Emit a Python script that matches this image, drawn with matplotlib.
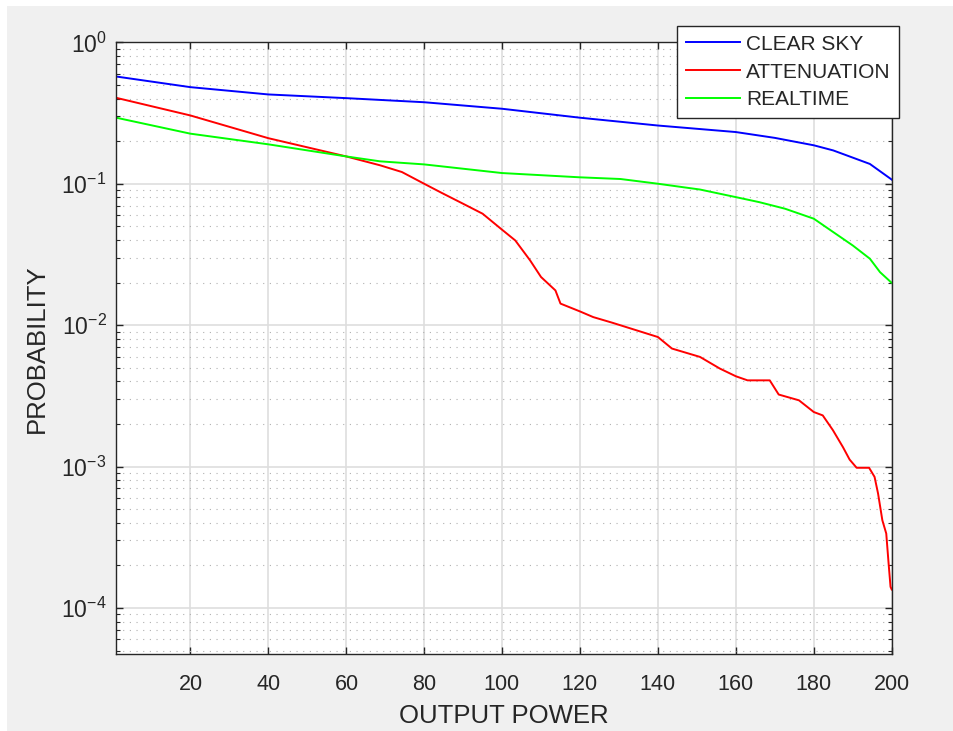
import matplotlib
matplotlib.use("Agg")
import matplotlib.pyplot as plt
from matplotlib.patches import Rectangle
from matplotlib.ticker import LogLocator, FixedLocator, NullLocator

plt.rcParams["font.family"] = ["Liberation Sans", "DejaVu Sans"]
plt.rcParams["axes.formatter.use_mathtext"] = True
plt.rcParams["axes.unicode_minus"] = False

# (output power -> exceedance probability)
clear_x = [1, 20, 40, 60, 80, 100, 120, 140, 160, 170, 180, 185, 190, 194.4, 200]
clear_y = [0.573, 0.482, 0.428, 0.403, 0.377, 0.339, 0.293, 0.258, 0.232, 0.211,
           0.187, 0.172, 0.153, 0.138, 0.107]

atten_x = [1, 20, 40, 60, 68.7, 74.3, 80, 84.6, 90, 95, 100, 103.4, 107.2, 110, 113.7,
           115, 120, 123.4, 128.3, 140, 143.6, 150.8, 155.9, 160, 163, 168.7, 171,
           176.2, 180, 182.3, 184.9, 187.5, 189.2, 191, 194.2, 195.6, 196.5, 197.6,
           198.6, 199.2, 199.7, 200]
atten_y = [0.405, 0.304, 0.210, 0.156, 0.135, 0.121, 0.100, 0.0859, 0.0722, 0.0614,
           0.0473, 0.0397, 0.0287, 0.0219, 0.0176, 0.0142, 0.0125, 0.0114, 0.0104,
           0.00824, 0.00683, 0.00596, 0.00493, 0.00435, 0.00407, 0.00407, 0.00323,
           0.00294, 0.00243, 0.00230, 0.00181, 0.00137, 0.00112, 0.00098, 0.00098,
           0.000845, 0.000644, 0.000417, 0.000336, 0.000207, 0.000141, 0.000135]

real_x = [1, 20, 40, 60, 68.7, 80, 100, 120, 130.4, 140, 150.8, 160, 166, 172.6, 180,
          185, 190, 194.4, 197, 200]
real_y = [0.293, 0.226, 0.190, 0.156, 0.144, 0.137, 0.119, 0.111, 0.108, 0.100, 0.091,
          0.0804, 0.0741, 0.0666, 0.0566, 0.0455, 0.0366, 0.0295, 0.0237, 0.0199]

x_ticks = [20, 40, 60, 80, 100, 120, 140, 160, 180, 200]
labels = ["CLEAR SKY", "ATTENUATION", "REALTIME"]

fig = plt.figure(figsize=(9.54, 7.31), dpi=100)
fig.patch.set_facecolor("white")
fig.patches.append(Rectangle((7 / 954, 0), 1, 1 - 6 / 731, transform=fig.transFigure,
                             facecolor="#f0f0f0", edgecolor="none", zorder=-1))
ax = fig.add_axes([0.1219, 0.1049, 0.8128, 0.8372])
ax.set_facecolor("white")

ax.plot(clear_x, clear_y, color="#0000ff", lw=1.4, label=labels[0])
ax.plot(atten_x, atten_y, color="#ff0000", lw=1.4, label=labels[1])
ax.plot(real_x, real_y, color="#00ff00", lw=1.4, label=labels[2])

ax.set_yscale("log")
ax.set_xlim(1, 200)
ax.set_ylim(4.7e-5, 1)
ax.xaxis.set_major_locator(FixedLocator(x_ticks))
ax.xaxis.set_minor_locator(NullLocator())
ax.yaxis.set_major_locator(LogLocator(base=10, numticks=10))
ax.yaxis.set_minor_locator(LogLocator(base=10, subs=range(2, 10), numticks=10))

ax.grid(which="major", color="#dedede", lw=1.2, ls="-")
ax.grid(which="minor", axis="y", color="#b0b0b0", lw=0.8, ls=(0, (1, 5)))
ax.set_axisbelow(True)

ax.tick_params(which="both", direction="in", top=True, right=True, colors="#262626")
ax.tick_params(which="major", length=5, width=1)
ax.tick_params(which="minor", length=3, width=0.8)
ax.tick_params(axis="x", labelsize=15.5, pad=14)
ax.tick_params(axis="y", labelsize=16.5, pad=7)
for sp in ax.spines.values():
    sp.set_color("#262626")
    sp.set_linewidth(1.0)

ax.set_xlabel("OUTPUT POWER", fontsize=18.5, color="#262626", labelpad=7)
ax.set_ylabel("PROBABILITY", fontsize=18.5, color="#262626", labelpad=9)

leg = ax.legend(loc="upper right", bbox_to_anchor=(899.3 / 954, 1 - 26 / 731),
                bbox_transform=fig.transFigure, borderaxespad=0, fontsize=15,
                fancybox=False, framealpha=1, edgecolor="#262626",
                handlelength=2.6, handletextpad=0.3, labelspacing=0.42, borderpad=0.42)
leg.get_frame().set_linewidth(1.0)
for t in leg.get_texts():
    t.set_color("#262626")

fig.savefig("out.png", dpi=100, facecolor=fig.get_facecolor())
